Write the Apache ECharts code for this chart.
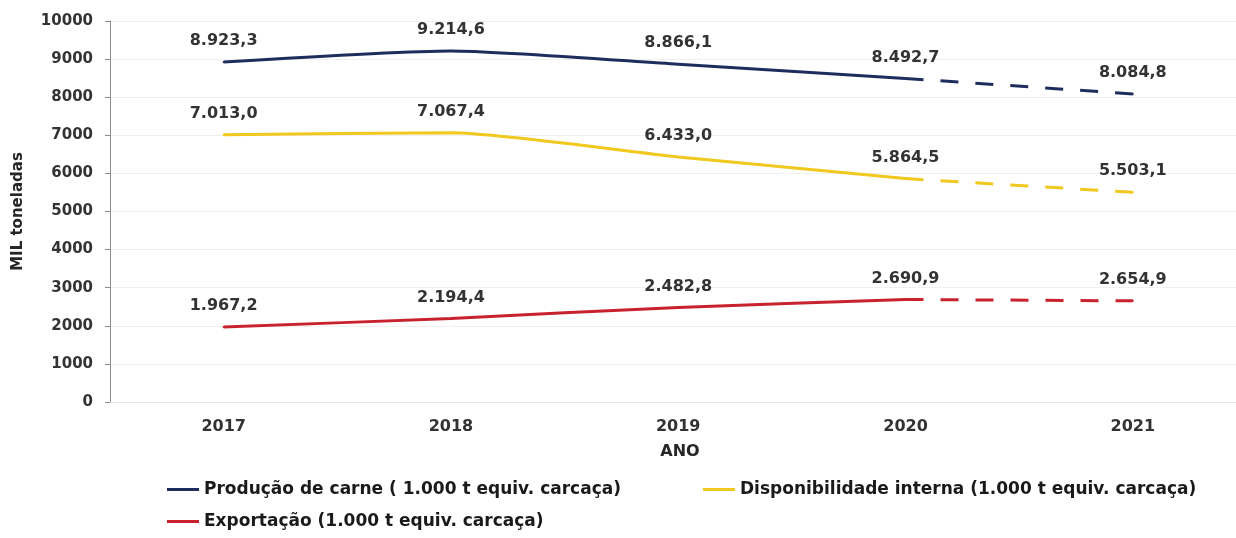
<!DOCTYPE html>
<html>
<head>
<meta charset="utf-8">
<script src="https://cdn.jsdelivr.net/npm/echarts@6/dist/echarts.min.js"></script>
<style>
  html, body { margin: 0; padding: 0; background: #ffffff; }
  #chart { width: 1236px; height: 538px; }
</style>
</head>
<body>
<div id="chart"></div>
<script>
// Anos e séries (mil toneladas equivalente carcaça)
const anos = ['2017', '2018', '2019', '2020', '2021'];
const producao = [8923.3, 9214.6, 8866.1, 8492.7, 8084.8];
const disponibilidade = [7013.0, 7067.4, 6433.0, 5864.5, 5503.1];
const exportacao = [1967.2, 2194.4, 2482.8, 2690.9, 2654.9];

const nomes = {
  producao: 'Produção de carne ( 1.000 t equiv. carcaça)',
  disponibilidade: 'Disponibilidade interna (1.000 t equiv. carcaça)',
  exportacao: 'Exportação (1.000 t equiv. carcaça)'
};
const cores = {
  producao: '#1f2d5e',
  disponibilidade: '#f0c81e',
  exportacao: '#c9222f'
};

// Formato brasileiro: 8.923,3
function fmt(v) {
  const parts = v.toFixed(1).split('.');
  return parts[0].replace(/\B(?=(\d{3})+(?!\d))/g, '.') + ',' + parts[1];
}

const FONT = 'DejaVu Sans';
const labelCfg = {
  show: true,
  position: 'top',
  distance: 12,
  color: '#333333',
  fontFamily: FONT,
  fontWeight: 'bold',
  fontSize: 16,
  formatter: p => fmt(p.value[1])
};

// Cada ano ocupa uma faixa de largura 1 no eixo x, com o ponto no centro (índice do ano)
const idx = anos.map((_, i) => i);

// Trecho realizado (linha contínua, 2017-2020) e projeção (tracejada, 2020-2021)
function solid(key, vals) {
  return {
    name: nomes[key],
    type: 'line',
    smooth: 0.2,
    data: idx.filter(i => i < 4).map(i => [i, vals[i]]),
    symbol: 'circle',
    symbolSize: 2,
    itemStyle: { color: cores[key] },
    lineStyle: { color: cores[key], width: 3 },
    label: labelCfg,
    z: 3
  };
}
function dashed(key, vals) {
  return {
    name: nomes[key] + ' - 2021',
    type: 'line',
    data: idx.filter(i => i >= 3).map(i =>
      i === 3 ? { value: [i, vals[i]], label: { show: false } } : [i, vals[i]]
    ),
    symbol: 'circle',
    symbolSize: 2,
    itemStyle: { color: cores[key] },
    lineStyle: { color: cores[key], width: 3, type: [18, 17] },
    label: labelCfg,
    z: 2
  };
}

const legendText = { color: '#1a1a1a', fontFamily: FONT, fontWeight: 'bold', fontSize: 17 };
function legend(key, left, top) {
  return {
    data: [nomes[key]],
    left: left,
    top: top,
    itemWidth: 32,
    itemHeight: 3,
    icon: 'rect',
    padding: 0,
    selectedMode: false,
    textStyle: legendText
  };
}

const chart = echarts.init(document.getElementById('chart'), null, { renderer: 'canvas' });
chart.setOption({
  animation: false,
  backgroundColor: '#ffffff',
  grid: { left: 110, right: 0, top: 21, bottom: 136, containLabel: false },
  legend: [
    legend('producao', 167, 481),
    legend('disponibilidade', 703, 481),
    legend('exportacao', 167, 513)
  ],
  xAxis: {
    type: 'value',
    min: -0.5,
    max: 4.454,
    name: 'ANO',
    nameLocation: 'middle',
    nameGap: 42,
    nameTextStyle: {
      color: '#262626', fontFamily: FONT, fontWeight: 'bold', fontSize: 16,
      padding: [0, 0, 0, 14]
    },
    axisLine: { show: true, lineStyle: { color: '#e6e6e6', width: 1 } },
    axisTick: { show: false },
    splitLine: { show: false },
    axisLabel: {
      customValues: idx,
      margin: 17, color: '#333333', fontFamily: FONT, fontWeight: 'bold', fontSize: 16,
      formatter: v => anos[Math.round(v)]
    }
  },
  yAxis: {
    type: 'value',
    min: 0,
    max: 10000,
    interval: 1000,
    name: 'MIL toneladas',
    nameLocation: 'middle',
    nameGap: 84,
    nameTextStyle: { color: '#262626', fontFamily: FONT, fontWeight: 'bold', fontSize: 15 },
    axisLine: { show: true, onZero: false, lineStyle: { color: '#8c8c8c', width: 1 } },
    axisTick: { show: true, length: 5, lineStyle: { color: '#8c8c8c' } },
    axisLabel: {
      margin: 17, color: '#333333', fontFamily: FONT, fontWeight: 'bold', fontSize: 15,
      formatter: v => String(v)
    },
    splitLine: { show: true, lineStyle: { color: '#f0f0f0', width: 1 } }
  },
  series: [
    solid('producao', producao),
    dashed('producao', producao),
    solid('disponibilidade', disponibilidade),
    dashed('disponibilidade', disponibilidade),
    solid('exportacao', exportacao),
    dashed('exportacao', exportacao)
  ]
});
</script>
</body>
</html>
